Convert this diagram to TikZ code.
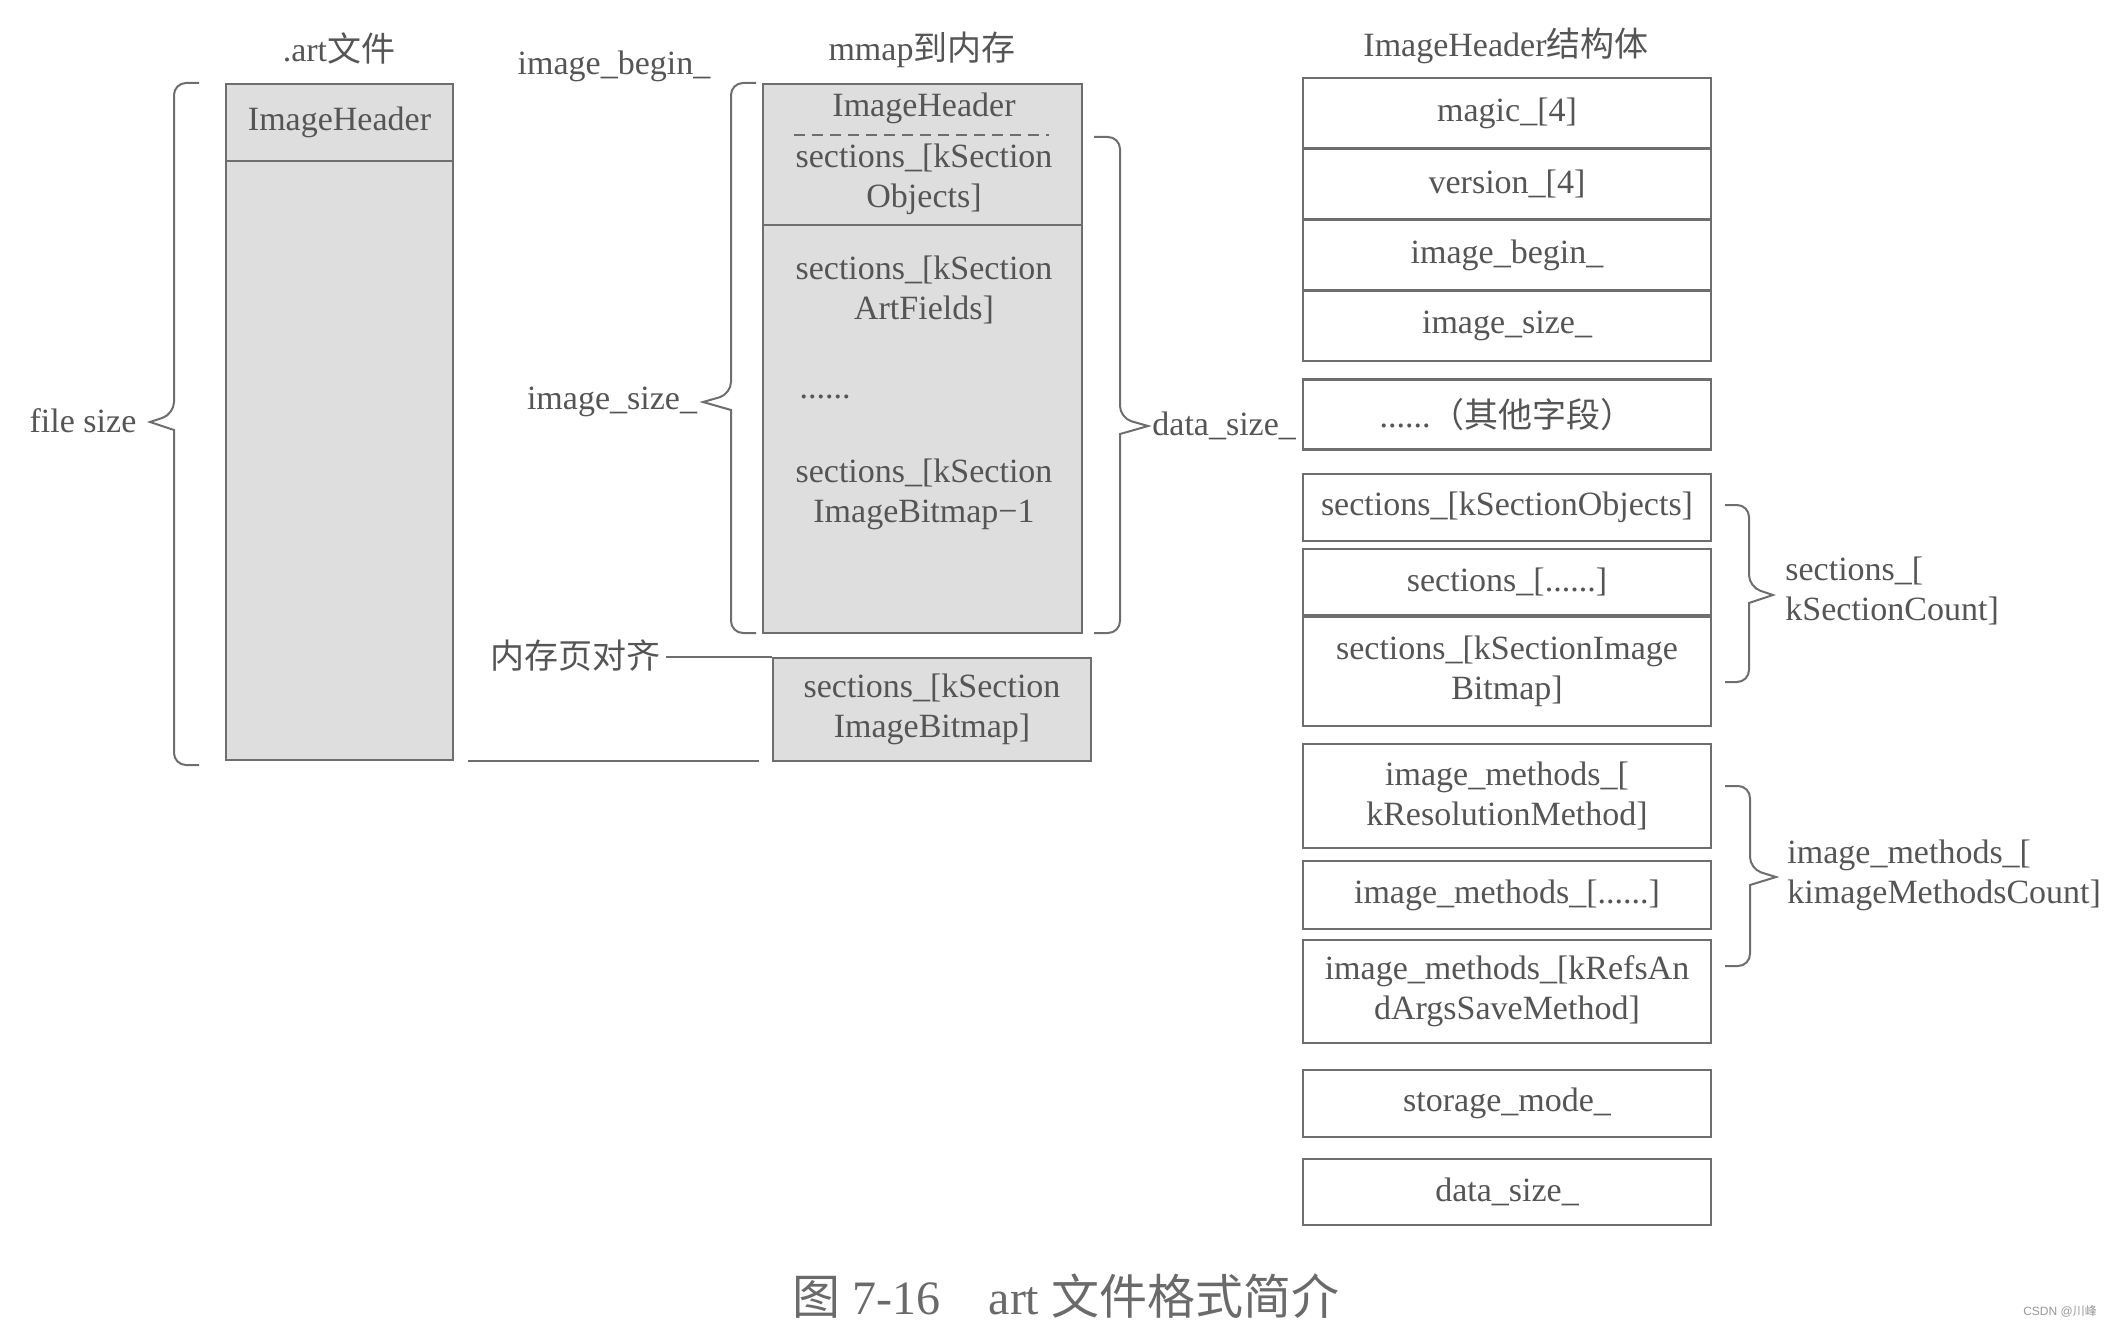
\documentclass[tikz,border=0pt]{standalone}
\usepackage{fontspec}
\setmainfont{Liberation Serif}
\newfontfamily\cjk{Noto Sans CJK SC}
\newfontfamily\wmfont{Liberation Sans}
\definecolor{textc}{HTML}{555555}
\definecolor{linec}{HTML}{6E6E6E}
\definecolor{boxg}{HTML}{DEDEDE}
\definecolor{captc}{HTML}{6A6A6A}
\begin{document}
\begin{tikzpicture}[x=0.5pt,y=-0.5pt,
 txt/.style={text=textc, font=\fontsize{17pt}{20pt}\selectfont, align=center, inner sep=1pt},
 rbox/.style={txt, draw=linec, line width=1.3pt, fill=white, minimum width=204pt, inner sep=0pt},
 gbox/.style={txt, draw=linec, line width=1.3pt, fill=boxg, inner sep=0pt},
 bracec/.style={draw=linec, line width=1pt},
 conn/.style={draw=linec, line width=1pt},
]
\useasboundingbox (0,0) rectangle (2110,1327);

% left column (.art file)
\node[gbox, minimum width=113.5pt, minimum height=299.5pt] (lbody) at (339.5,460.5) {};
\node[gbox, minimum width=113.5pt, minimum height=38.5pt] (lhead) at (339.5,122.5) {ImageHeader};
\node[txt] (artlbl) at (339,48) {.art{\cjk 文件}};
\node[txt] (filesize) at (83,421) {file size};
\draw[bracec, rounded corners=6pt] (199,83) -- (174,83) -- (174,414) [sharp corners] -- (150,422) -- (174,430) [rounded corners=6pt] -- (174,765) -- (199,765);

% middle column (mmap)
\node[gbox, minimum width=159.5pt, minimum height=204pt] (mbody) at (922.5,429) {};
\node[gbox, minimum width=159.5pt, minimum height=70.5pt] (mhead) at (922.5,154.5) {};
\node[txt] (mhtitle) at (924,108) {ImageHeader};
\draw[linec, line width=1.1pt, dash pattern=on 5.5pt off 3.5pt] (794,135) -- (1049,135);
\node[txt] (mobj) at (924,179) {sections\_[kSection\\Objects]};
\node[txt] (mart) at (924,290) {sections\_[kSection\\ArtFields]};
\node[txt] (mdots) at (825,397) {......};
\node[txt] (mbm1) at (924,494) {sections\_[kSection\\ImageBitmap−1};
\node[gbox, minimum width=159pt, minimum height=51.5pt] (mbmp) at (932,709.5) {sections\_[kSection\\ImageBitmap]};
\node[txt] (mmaplbl) at (922,50) {mmap{\cjk 到内存}};
\node[txt] (beginlbl) at (614,66) {image\_begin\_};
\node[txt] (isizelbl) at (612,402) {image\_size\_};
\node[txt, anchor=west, inner sep=0pt] (dsizelbl) at (1152,426) {data\_size\_};
\node[txt, inner sep=3pt] (alignlbl) at (575,656) {{\cjk 内存页对齐}};
\draw[bracec, rounded corners=6pt] (756,83) -- (731,83) -- (731,394) [sharp corners] -- (703,402) -- (731,410) [rounded corners=6pt] -- (731,633) -- (756,633);
\draw[bracec, rounded corners=6pt] (1094,137) -- (1120,137) -- (1120,418) [sharp corners] -- (1148,426) -- (1120,434) [rounded corners=6pt] -- (1120,633) -- (1094,633);

% connectors
\draw[conn] (alignlbl.east |- mbmp.north west) -- (mbmp.north west);
\coordinate (bl) at (lbody.south east -| mbmp.west);
\draw[conn] ([xshift=7pt]lbody.south east) -- ([xshift=-6.5pt]bl);

% right column (ImageHeader struct)
\node[txt] (ihlbl) at (1506,46) {ImageHeader{\cjk 结构体}};
\node[rbox, minimum height=35.4pt] (magic) at (1507,113.4) {magic\_[4]};
\node[rbox, minimum height=35.4pt] (version) at (1507,184.1) {version\_[4]};
\node[rbox, minimum height=35.4pt] (ibegin) at (1507,254.9) {image\_begin\_};
\node[rbox, minimum height=35.4pt] (isize) at (1507,325.6) {image\_size\_};
\node[rbox, minimum height=35pt] (other) at (1507,414.5) {......{\cjk （其他字段）}};
\node[rbox, minimum height=33.5pt] (secobj) at (1507,507.5) {sections\_[kSectionObjects]};
\node[rbox, minimum height=33pt] (secdots) at (1507,582) {sections\_[......]};
\node[rbox, minimum height=54.5pt] (secbmp) at (1507,671.5) {sections\_[kSectionImage\\Bitmap]};
\node[rbox, minimum height=52pt] (imres) at (1507,796) {image\_methods\_[\\kResolutionMethod]};
\node[rbox, minimum height=34pt] (imdots) at (1507,895) {image\_methods\_[......]};
\node[rbox, minimum height=51.5pt] (imrefs) at (1507,991.5) {image\_methods\_[kRefsAn\\dArgsSaveMethod]};
\node[rbox, minimum height=33.5pt] (storage) at (1507,1103.5) {storage\_mode\_};
\node[rbox, minimum height=33pt] (datasize) at (1507,1192) {data\_size\_};

\draw[bracec, rounded corners=6pt] (1725,505) -- (1749,505) -- (1749,587) [sharp corners] -- (1773,595) -- (1749,603) [rounded corners=6pt] -- (1749,682) -- (1725,682);
\draw[bracec, rounded corners=6pt] (1725,786) -- (1750,786) -- (1750,869) [sharp corners] -- (1776,877) -- (1750,885) [rounded corners=6pt] -- (1750,966) -- (1725,966);
\node[txt, anchor=west, align=left, inner sep=0pt] (seccount) at (1785,591) {sections\_[\\kSectionCount]};
\node[txt, anchor=west, align=left, inner sep=0pt] (imcount) at (1787,875) {image\_methods\_[\\kimageMethodsCount]};

% caption and watermark
\node[text=captc, font=\fontsize{24pt}{28pt}\selectfont, inner sep=0pt] (caption) at (1066,1296) {{\cjk 图} 7-16{\cjk 　}art {\cjk 文件格式简介}};
\node[text=captc!70, font=\fontsize{6pt}{7pt}\selectfont\wmfont, inner sep=0pt] (wm) at (2060,1311) {CSDN @{\cjk 川峰}};
\end{tikzpicture}
\end{document}
